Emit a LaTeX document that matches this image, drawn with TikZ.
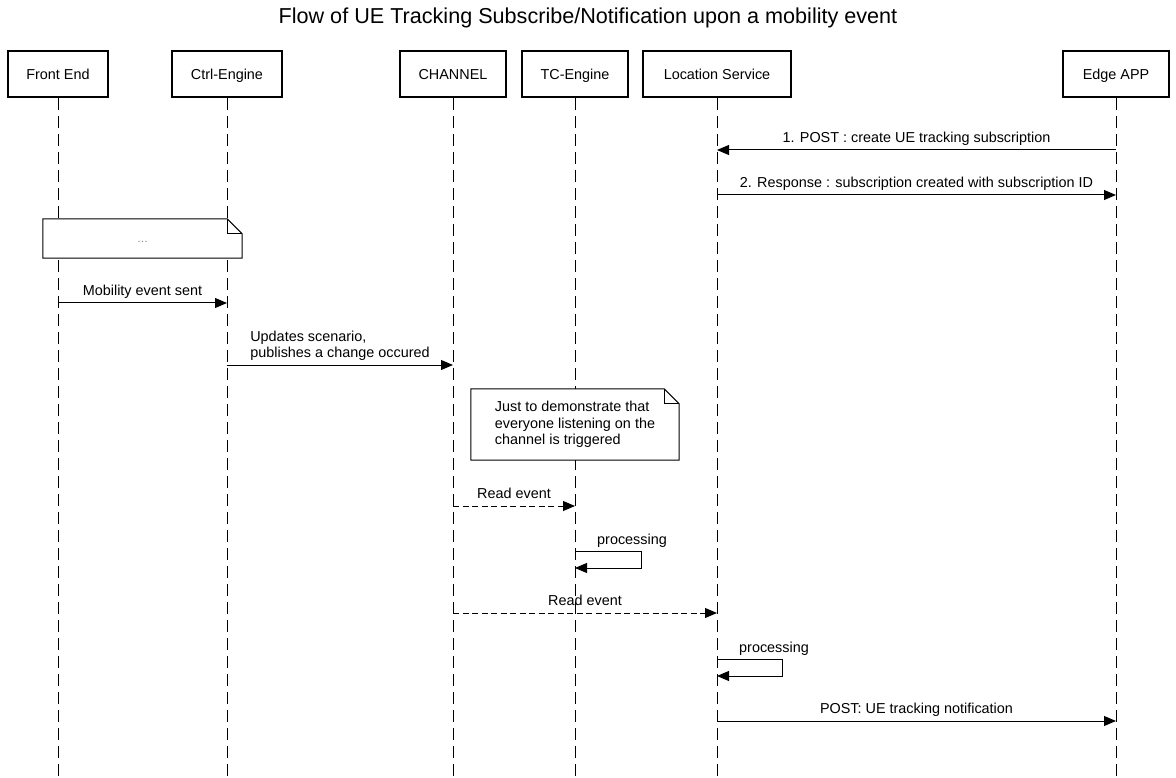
\documentclass[tikz,border=0pt]{standalone}
\usepackage{fontspec}
\setmainfont{Liberation Sans}
\usetikzlibrary{arrows.meta}
\begin{document}
\begin{tikzpicture}[x=1pt,y=-1pt,
  actor/.style={draw, line width=1.6pt, minimum height=46pt, inner sep=0pt,
    text height=10.4pt, text depth=0pt,
    font=\fontsize{14.4}{17}\selectfont},
  life/.style={line width=1pt, dash pattern=on 12.5pt off 5.5pt},
  msg/.style={line width=1pt, -{Triangle[length=12pt,width=10pt]}},
  rmsg/.style={msg, dash pattern=on 6pt off 3.5pt},
  lbl/.style={font=\fontsize{14.4}{17}\selectfont, inner sep=0pt, text depth=3pt},
  mlbl/.style={font=\fontsize{14.4}{16.5}\selectfont, inner sep=0pt, align=left},
  notebg/.style={fill=white, inner sep=0pt},
  noteline/.style={line width=1pt},
]
\useasboundingbox (0,0) rectangle (1176,778);

\node[font=\fontsize{21.6}{26}\selectfont] (title) at (588,18)
  {Flow of UE Tracking Subscribe/Notification upon a mobility event};

% actors
\node[actor, minimum width=100pt] (fe) at (58,74)   {Front End};
\node[actor, minimum width=110pt] (ce) at (227,74)  {Ctrl-Engine};
\node[actor, minimum width=106pt] (ch) at (453,74)  {CHANNEL};
\node[actor, minimum width=106pt] (tc) at (575,74)  {TC-Engine};
\node[actor, minimum width=148pt] (ls) at (717,74)  {Location Service};
\node[actor, minimum width=106pt] (ea) at (1116,74) {Edge APP};

\coordinate (bot) at (0,778);
\foreach \a in {fe,ce,ch,tc,ls,ea}
  \draw[life] (\a.south) -- (\a |- bot);

% message levels
\coordinate (m1) at (0,150);
\coordinate (m2) at (0,195);
\coordinate (m3) at (0,303);
\coordinate (m4) at (0,365);
\coordinate (m5) at (0,506);
\coordinate (m6) at (0,551);
\coordinate (m6b) at (0,568);
\coordinate (m7) at (0,613);
\coordinate (m8) at (0,659);
\coordinate (m8b) at (0,676);
\coordinate (m9) at (0,721);

\draw[msg] (ea |- m1) -- node[lbl, above=4pt] {1. POST : create UE tracking subscription} (ls |- m1);
\draw[msg] (ls |- m2) -- node[lbl, above=4pt] {2. Response : subscription created with subscription ID} (ea |- m2);

% note 1
\node[notebg, minimum width=199pt, minimum height=39pt] (n1) at (142.5,238.5) {};
\draw[noteline] (n1.north west) -- ([xshift=-15pt]n1.north east) -- ([yshift=-15pt]n1.north east)
  -- (n1.south east) -- (n1.south west) -- cycle;
\draw[noteline] ([xshift=-15pt]n1.north east) -- ([xshift=-15pt,yshift=-15pt]n1.north east)
  -- ([yshift=-15pt]n1.north east);
\node[text=gray, inner sep=0pt, anchor=base, font=\fontsize{11}{13}\selectfont]
  at ([yshift=-4pt]n1.center) {\ldots};

\draw[msg] (fe |- m3) -- node[lbl, above=4pt] {Mobility event sent} (ce |- m3);
\draw[msg] (ce |- m4) -- node[mlbl, above=4pt] {Updates scenario,\\publishes a change occured} (ch |- m4);

% note 2
\node[notebg, minimum width=208pt, minimum height=71pt, align=left,
  font=\fontsize{14.4}{16.5}\selectfont] (n2) at (575,424.5)
  {Just to demonstrate that\\everyone listening on the\\channel is triggered};
\draw[noteline] (n2.north west) -- ([xshift=-15pt]n2.north east) -- ([yshift=-15pt]n2.north east)
  -- (n2.south east) -- (n2.south west) -- cycle;
\draw[noteline] ([xshift=-15pt]n2.north east) -- ([xshift=-15pt,yshift=-15pt]n2.north east)
  -- ([yshift=-15pt]n2.north east);

\draw[rmsg] (ch |- m5) -- node[lbl, above=4pt] {Read event} (tc |- m5);

\draw[msg] (tc |- m6) -- ++(66,0) |- (tc |- m6b);
\path (tc |- m6) ++(22,-7) node[lbl, anchor=base west, text depth=0pt] {processing};

\draw[rmsg] (ch |- m7) -- node[lbl, above=4pt] {Read event} (ls |- m7);

\draw[msg] (ls |- m8) -- ++(65,0) |- (ls |- m8b);
\path (ls |- m8) ++(22,-7) node[lbl, anchor=base west, text depth=0pt] {processing};

\draw[msg] (ls |- m9) -- node[lbl, above=4pt] {POST: UE tracking notification} (ea |- m9);
\end{tikzpicture}
\end{document}
